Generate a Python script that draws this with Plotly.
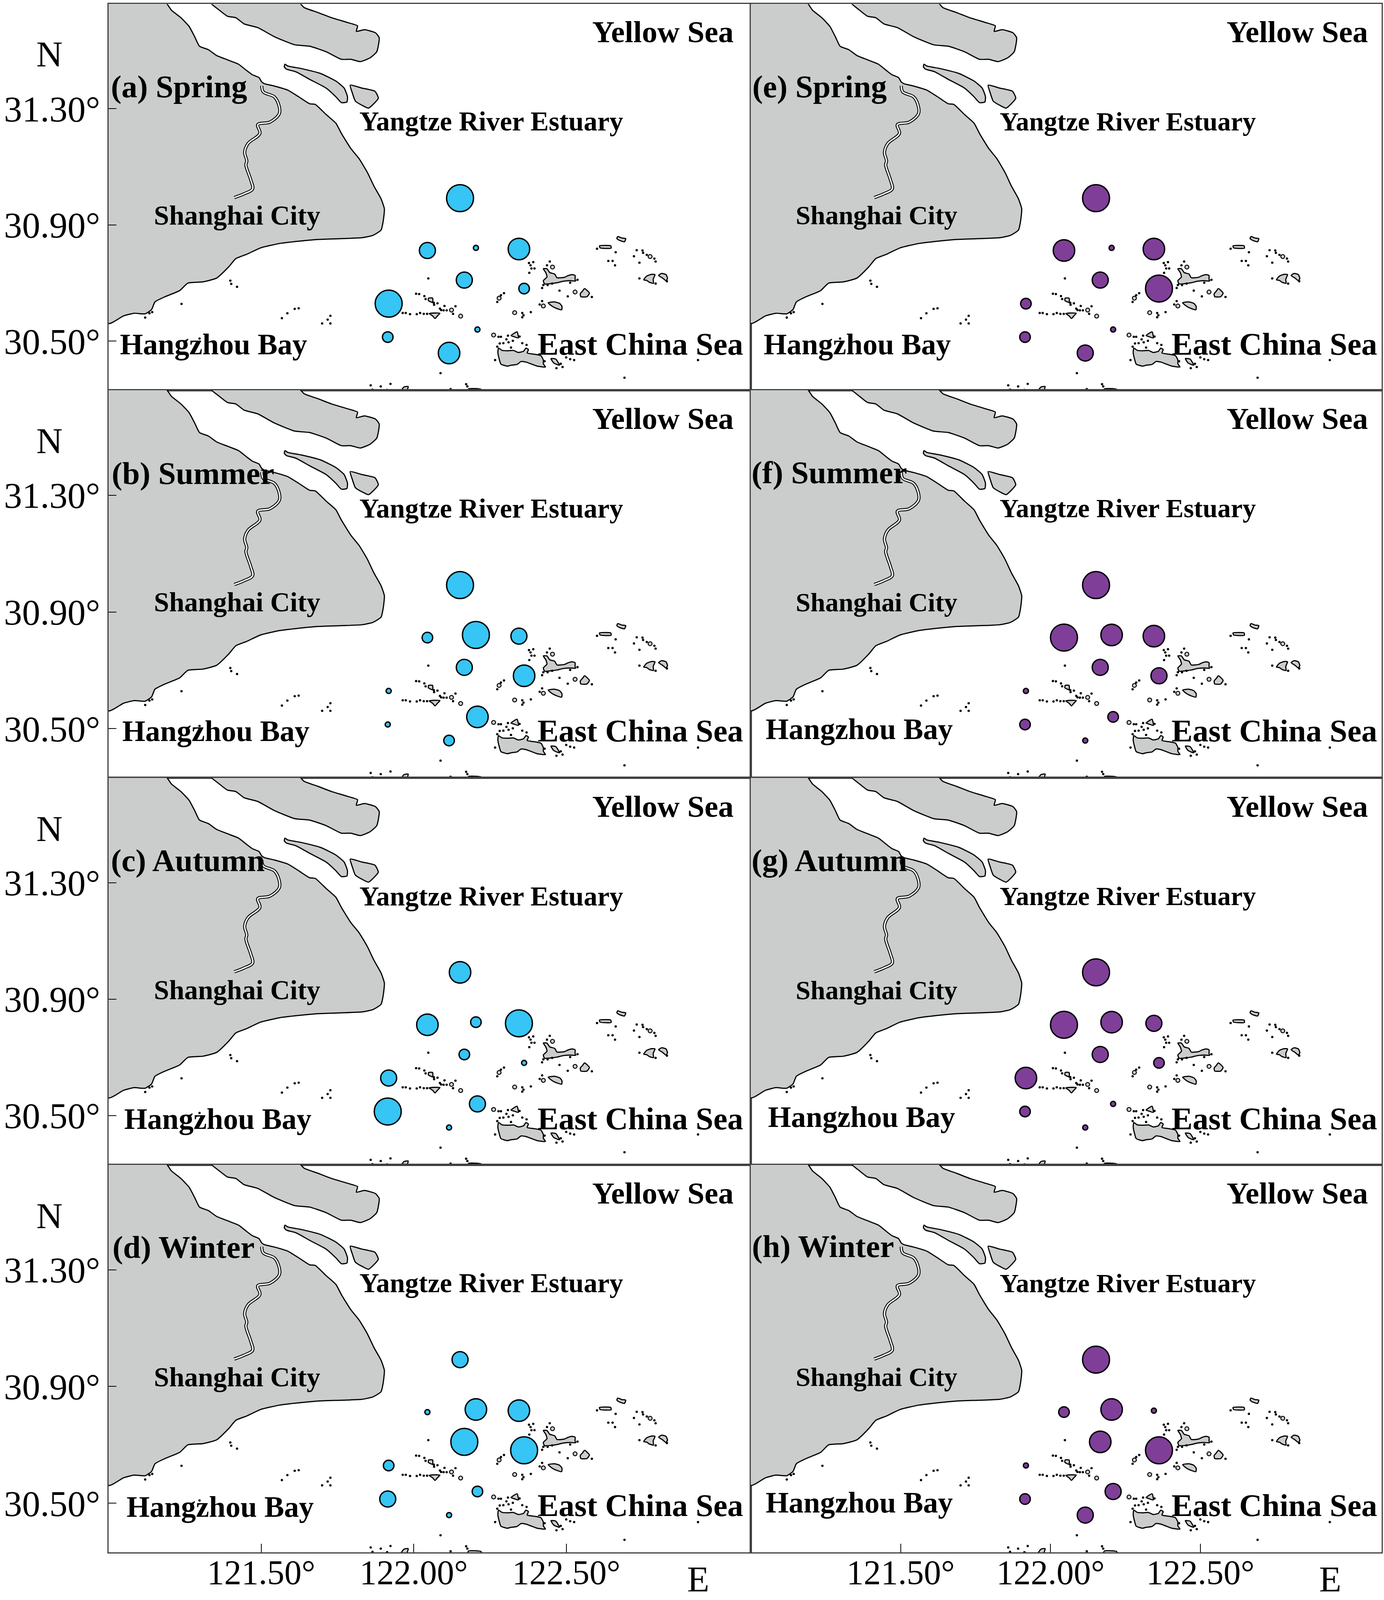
# %reset

import plotly.graph_objects as go

W = 3543
H = 4305
# the browser page only shows this much of the height, so the figure is fitted to it
VIEW_H = 4096

# station positions, longitude and latitude
station_lon = [122.152, 122.045, 122.204, 122.345, 122.166, 122.362, 121.918, 121.915, 122.209, 122.116]
station_lat = [30.992, 30.812, 30.821, 30.817, 30.710, 30.681, 30.629, 30.514, 30.540, 30.459]

# graduated symbol class of every station, panels a to h
spring_blue = [5, 3, 1, 4, 3, 2, 5, 2, 1, 4]
summer_blue = [5, 2, 5, 3, 3, 4, 1, 1, 4, 2]
autumn_blue = [4, 4, 2, 5, 2, 1, 3, 5, 3, 1]
winter_blue = [3, 1, 4, 4, 5, 5, 2, 3, 2, 1]
spring_purple = [5, 4, 1, 4, 3, 5, 2, 2, 1, 3]
summer_purple = [5, 5, 4, 4, 3, 3, 1, 2, 2, 1]
autumn_purple = [5, 5, 4, 3, 3, 2, 4, 2, 1, 1]
winter_purple = [5, 2, 4, 1, 4, 5, 1, 2, 3, 3]

# land outlines, one list per island
shanghai_lon = [121.0, 121.183, 121.206, 121.237, 121.264, 121.282, 121.298, 121.327, 121.354, 121.390, 121.426, 121.453, 121.471, 121.493, 121.502, 121.511, 121.543, 121.587, 121.623, 121.659, 121.677, 121.713, 121.745, 121.763, 121.794, 121.821, 121.848, 121.870, 121.893, 121.904, 121.900, 121.893, 121.866, 121.830, 121.767, 121.686, 121.623, 121.560, 121.498, 121.453, 121.417, 121.394, 121.354, 121.309, 121.260, 121.233, 121.183, 121.152, 121.141, 121.120, 121.084, 121.049, 121.0]
shanghai_lat = [31.67, 31.67, 31.639, 31.613, 31.583, 31.548, 31.515, 31.503, 31.483, 31.468, 31.453, 31.431, 31.417, 31.407, 31.392, 31.386, 31.378, 31.364, 31.341, 31.317, 31.315, 31.280, 31.250, 31.215, 31.163, 31.128, 31.081, 31.033, 30.990, 30.955, 30.912, 30.882, 30.864, 30.856, 30.853, 30.850, 30.844, 30.836, 30.821, 30.799, 30.784, 30.756, 30.717, 30.704, 30.700, 30.674, 30.652, 30.635, 30.609, 30.594, 30.596, 30.587, 30.561]
river_lon = [121.502, 121.507, 121.543, 121.556, 121.560, 121.529, 121.489, 121.496, 121.457, 121.446, 121.453, 121.450, 121.466, 121.472, 121.444, 121.412]
river_lat = [31.379, 31.358, 31.341, 31.319, 31.284, 31.254, 31.245, 31.215, 31.180, 31.150, 31.120, 31.107, 31.055, 31.024, 31.007, 30.994]
islands = [
    ([121.329, 121.363, 121.390, 121.417, 121.444, 121.489, 121.543, 121.610, 121.659, 121.713, 121.763, 121.794, 121.825, 121.857, 121.879, 121.887, 121.875, 121.839, 121.812, 121.816, 121.785, 121.731, 121.686, 121.641, 121.619],
     [31.67, 31.639, 31.618, 31.613, 31.592, 31.579, 31.548, 31.520, 31.515, 31.496, 31.470, 31.470, 31.462, 31.475, 31.496, 31.544, 31.561, 31.572, 31.566, 31.585, 31.596, 31.613, 31.631, 31.648, 31.67]),
    ([121.578, 121.587, 121.632, 121.695, 121.745, 121.772, 121.783, 121.781, 121.763, 121.745, 121.713, 121.659, 121.614, 121.583, 121.576],
     [31.453, 31.447, 31.438, 31.421, 31.395, 31.371, 31.341, 31.323, 31.321, 31.341, 31.371, 31.401, 31.427, 31.436, 31.444]),
    ([121.792, 121.830, 121.873, 121.884, 121.852, 121.834, 121.809, 121.799],
     [31.381, 31.371, 31.360, 31.336, 31.302, 31.310, 31.326, 31.354]),
    ([122.425, 122.437, 122.446, 122.462, 122.470, 122.495, 122.505, 122.519, 122.529, 122.529, 122.531, 122.511, 122.490, 122.470, 122.450, 122.429, 122.425, 122.437, 122.433],
     [30.749, 30.749, 30.736, 30.731, 30.718, 30.720, 30.725, 30.729, 30.726, 30.713, 30.707, 30.708, 30.706, 30.701, 30.698, 30.697, 30.708, 30.721, 30.736]),
    ([122.278, 122.290, 122.311, 122.327, 122.343, 122.360, 122.368, 122.376, 122.372, 122.396, 122.417, 122.425, 122.425, 122.432, 122.405, 122.384, 122.368, 122.352, 122.339, 122.319, 122.307, 122.286, 122.280, 122.276],
     [30.476, 30.468, 30.467, 30.468, 30.461, 30.465, 30.476, 30.471, 30.459, 30.455, 30.450, 30.435, 30.422, 30.411, 30.414, 30.422, 30.428, 30.430, 30.420, 30.417, 30.414, 30.421, 30.440, 30.460]),
    ([122.560, 122.568, 122.576, 122.568, 122.548, 122.546, 122.554],
     [30.681, 30.675, 30.665, 30.653, 30.653, 30.663, 30.673]),
    ([122.441, 122.462, 122.478, 122.486, 122.485, 122.470, 122.454],
     [30.632, 30.635, 30.630, 30.620, 30.608, 30.612, 30.620]),
    ([122.051, 122.070, 122.086, 122.078, 122.070, 122.062],
     [30.595, 30.597, 30.596, 30.587, 30.578, 30.587]),
    ([122.780, 122.791, 122.785, 122.786, 122.772, 122.764, 122.754, 122.764],
     [30.730, 30.729, 30.713, 30.699, 30.703, 30.709, 30.711, 30.724]),
    ([122.803, 122.813, 122.827, 122.832, 122.827, 122.816],
     [30.726, 30.733, 30.729, 30.716, 30.708, 30.717]),
    ([122.609, 122.646, 122.647, 122.611],
     [30.828, 30.828, 30.820, 30.821]),
    ([122.669, 122.682, 122.695, 122.691, 122.674, 122.666],
     [30.860, 30.855, 30.853, 30.842, 30.847, 30.853]),
    ([122.450, 122.466, 122.478, 122.459],
     [30.440, 30.438, 30.417, 30.425]),
    ([122.049, 122.062, 122.062, 122.048],
     [30.648, 30.648, 30.633, 30.640]),
    ([122.319, 122.339, 122.343, 122.327],
     [30.519, 30.532, 30.511, 30.516]),
    ([121.955, 121.968, 121.982, 121.974],
     [30.321, 30.342, 30.344, 30.321]),
    ([122.151, 122.176, 122.180, 122.221, 122.221],
     [30.321, 30.329, 30.336, 30.334, 30.321]),
]

# tiny islets
islet_lon = [121.399, 121.402, 121.421, 121.239, 121.623, 121.610, 121.586, 121.568, 121.727, 121.718, 121.700, 121.727, 121.120, 121.134, 121.143, 121.298,
             121.964, 121.974, 121.988, 122.010, 122.021, 122.033, 122.044, 122.008, 122.018, 122.035, 122.039, 122.066, 122.078, 122.067, 122.101, 122.086, 122.090, 122.098, 122.108, 122.137, 122.129, 122.048,
             122.378, 122.383, 122.386, 122.396, 122.392, 122.379, 122.446, 122.437, 122.421, 122.425, 122.439, 122.454, 122.513, 122.537, 122.296, 122.286, 122.274, 122.478, 122.505, 122.584, 122.421, 122.413,
             122.356, 122.360, 122.356, 122.384, 122.278, 122.286, 122.309, 122.347, 122.304, 122.294, 122.311, 122.325, 122.282, 122.356, 122.370, 122.274, 122.319, 122.267, 122.429, 122.500, 122.513, 122.526, 122.468, 122.488, 122.482,
             122.088, 122.691, 122.932, 122.662, 122.601, 122.731, 122.750, 122.752, 122.764, 122.789, 122.793, 122.722, 122.740, 122.638, 122.652, 122.660, 122.740, 122.793, 122.830,
             121.859, 121.865, 121.892, 121.913, 121.924, 122.121, 122.172, 122.176]
islet_lat = [30.708, 30.697, 30.687, 30.628, 30.613, 30.611, 30.596, 30.579, 30.587, 30.574, 30.561, 30.561, 30.581, 30.596, 30.600, 30.509,
             30.597, 30.597, 30.593, 30.593, 30.597, 30.594, 30.594, 30.663, 30.662, 30.655, 30.645, 30.632, 30.630, 30.625, 30.621, 30.612, 30.607, 30.606, 30.606, 30.620, 30.594, 30.716,
             30.769, 30.761, 30.750, 30.750, 30.772, 30.735, 30.774, 30.761, 30.683, 30.693, 30.693, 30.698, 30.701, 30.711, 30.665, 30.658, 30.635, 30.674, 30.654, 30.652, 30.638, 30.626,
             30.597, 30.589, 30.582, 30.600, 30.515, 30.515, 30.519, 30.516, 30.506, 30.493, 30.496, 30.501, 30.492, 30.493, 30.487, 30.481, 30.478, 30.435, 30.431, 30.444, 30.438, 30.435, 30.407, 30.411, 30.422,
             30.390, 30.374, 30.435, 30.806, 30.818, 30.813, 30.812, 30.804, 30.797, 30.784, 30.774, 30.792, 30.770, 30.776, 30.776, 30.761, 30.716, 30.698, 30.706,
             30.348, 30.333, 30.344, 30.332, 30.353, 30.335, 30.352, 30.344]
ring_lon = [122.124, 122.154, 122.455, 122.280, 122.529, 122.425, 122.331, 122.262, 122.775]
ring_lat = [30.607, 30.586, 30.755, 30.648, 30.669, 30.621, 30.598, 30.521, 30.791]

lat_ticks = [31.3, 30.9, 30.5]
lat_labels = ["31.30°", "30.90°", "30.50°"]
lon_ticks = [121.5, 122.0, 122.5]
lon_labels = ["121.50°", "122.00°", "122.50°"]

row_edges = [11, 1050, 2093, 3134, 4177]
col_edges = [278, 1922, 3537]
lon_range = [121.0, 123.105]
lat_range = [30.331, 31.66]

BLUE = "#36C5F4"
PURPLE = "#7F3F98"
GREY = "#CBCCCC"
FRAME = "#404040"

panels = [
    ("(a) Spring", spring_blue, 0, 0, (167, 85), (199, 337)),
    ("(b) Summer", summer_blue, 1, 0, (180, 464), (201, 716)),
    ("(c) Autumn", autumn_blue, 2, 0, (175, 843), (203, 1096)),
    ("(d) Winter", winter_blue, 3, 0, (171, 1222), (205, 1476)),
    ("(e) Spring", spring_purple, 0, 1, (764, 85), (799, 337)),
    ("(f) Summer", summer_purple, 1, 1, (773, 463), (801, 714)),
    ("(g) Autumn", autumn_purple, 2, 1, (773, 843), (803, 1094)),
    ("(h) Winter", winter_purple, 3, 1, (767, 1221), (801, 1472)),
]
row_text_y = [0, 379, 759, 1138]


def join(parts):
    # islands are closed and kept apart with a gap
    out = []
    for p in parts:
        out += list(p) + [p[0], None]
    return out


def label(fig, text, x, y, size, bold=True):
    # positions are taken from the 1290 px wide view of the picture
    fig.add_annotation(x=x / 1290, y=1 - y / 1567.5, xref="paper", yref="paper", text=f"<b>{text}</b>" if bold else text,
                       showarrow=False, xanchor="center", yanchor="middle",
                       font=dict(family="Liberation Serif", size=size, color="black"))


land_lon = join([shanghai_lon] + [i[0] for i in islands])
land_lat = join([shanghai_lat] + [i[1] for i in islands])

fig = go.Figure()
for n, (name, classes, row, col, name_pos, bay_pos) in enumerate(panels):
    ax = "" if n == 0 else str(n + 1)
    xa, ya = "x" + ax, "y" + ax
    fig.add_trace(go.Scatter(x=land_lon, y=land_lat, xaxis=xa, yaxis=ya, mode="lines", fill="toself", fillcolor=GREY,
                             line=dict(color="black", width=3, shape="spline", smoothing=0.5), hoverinfo="skip"))
    fig.add_trace(go.Scatter(x=river_lon, y=river_lat, xaxis=xa, yaxis=ya, mode="lines",
                             line=dict(color="black", width=8, shape="spline"), hoverinfo="skip"))
    fig.add_trace(go.Scatter(x=river_lon, y=river_lat, xaxis=xa, yaxis=ya, mode="lines",
                             line=dict(color="white", width=3.5, shape="spline"), hoverinfo="skip"))
    fig.add_trace(go.Scatter(x=islet_lon, y=islet_lat, xaxis=xa, yaxis=ya, mode="markers", marker=dict(color="black", size=6), hoverinfo="skip"))
    fig.add_trace(go.Scatter(x=ring_lon, y=ring_lat, xaxis=xa, yaxis=ya, mode="markers",
                             marker=dict(color=GREY, size=10, line=dict(color="black", width=2.5)), hoverinfo="skip"))
    fig.add_trace(go.Scatter(x=station_lon, y=station_lat, xaxis=xa, yaxis=ya, mode="markers",
                             marker=dict(color=BLUE if col == 0 else PURPLE, size=[14 * c - 1 for c in classes], opacity=1,
                                         sizemode="diameter", line=dict(color="black", width=3.5)), name=name))

    fig.update_layout({
        "xaxis" + ax: dict(domain=[col_edges[col] / W, col_edges[col + 1] / W], range=lon_range, anchor=ya, automargin=False, showgrid=False, zeroline=False,
                           showline=True, mirror=True, linecolor=FRAME, linewidth=3, tickmode="array", tickvals=lon_ticks,
                           ticktext=lon_labels if row == 3 else ["", "", ""], ticks="inside" if row == 3 else "", ticklen=22, tickcolor="black", tickwidth=2,
                           tickfont=dict(family="Liberation Serif", size=88, color="black"), ticklabelstandoff=-28),
        "yaxis" + ax: dict(domain=[1 - row_edges[row + 1] / H, 1 - row_edges[row] / H], range=lat_range, anchor=xa, automargin=False, showgrid=False, zeroline=False,
                           showline=True, mirror=True, linecolor=FRAME, linewidth=3, tickmode="array", tickvals=lat_ticks,
                           ticktext=lat_labels if col == 0 else ["", "", ""], ticks="inside" if col == 0 else "", ticklen=20, tickcolor="black", tickwidth=2,
                           tickfont=dict(family="Liberation Serif", size=93, color="black"), ticklabelstandoff=0),
    })

    dy = row_text_y[row]
    if col == 0:
        label(fig, "Yellow Sea", 618, 31 + dy, 79)
        label(fig, "Yangtze River Estuary", 458, 119 + dy, 70)
        label(fig, "Shanghai City", 221, 211 + dy, 70)
        label(fig, "East China Sea", 597, 337 + dy, 81)
        label(fig, "N", 46, 53 + dy, 93, bold=False)
    else:
        label(fig, "Yellow Sea", 1209, 31 + dy, 79)
        label(fig, "Yangtze River Estuary", 1051, 119 + dy, 68)
        label(fig, "Shanghai City", 817, 211 + dy, 68)
        label(fig, "East China Sea", 1188, 337 + dy, 81)
    label(fig, name, name_pos[0], name_pos[1], 81)
    label(fig, "Hangzhou Bay", bay_pos[0], bay_pos[1], 76)

label(fig, "E", 651, 1547, 93, bold=False)
label(fig, "E", 1240, 1547, 93, bold=False)

fig.update_layout(width=W, height=VIEW_H, margin=dict(l=0, r=0, t=0, b=0), showlegend=False,
                  plot_bgcolor="white", paper_bgcolor="white")

fig.write_html("out.html", config={"displayModeBar": False},
               post_script="document.body.style.margin='0';document.documentElement.style.overflow='hidden';")
